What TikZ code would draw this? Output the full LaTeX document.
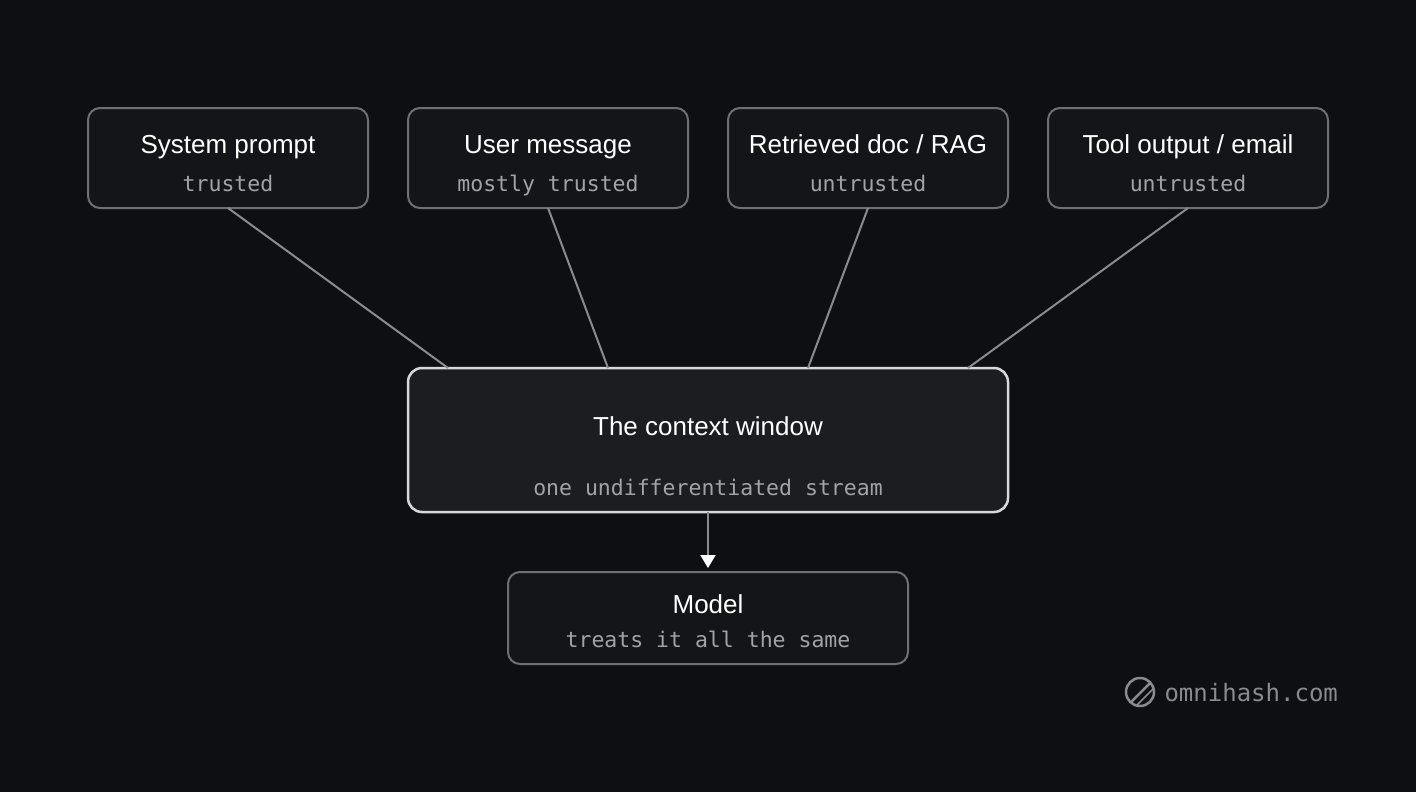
\documentclass[tikz,border=0pt]{standalone}
\usepackage{fontspec}
\setmainfont{Liberation Sans}
\newfontfamily\monof{DejaVu Sans Mono}
\usetikzlibrary{arrows.meta}
\definecolor{bg}{HTML}{0E0F12}
\definecolor{boxfill}{HTML}{141518}
\definecolor{ctxfill}{HTML}{1C1D21}
\definecolor{edge}{HTML}{6E6F73}
\definecolor{ctxedge}{HTML}{D8D8DA}
\definecolor{line}{HTML}{8A8B8E}
\definecolor{subc}{HTML}{A2A3A6}
\begin{document}
\begin{tikzpicture}[x=1pt,y=-1pt,
 src/.style={draw=edge,fill=boxfill,line width=2pt,rounded corners=12pt},
 ttl/.style={text=white,font=\fontsize{26}{28}\selectfont,anchor=base},
 sub/.style={text=subc,font=\monof\fontsize{21.5}{24}\selectfont,anchor=base},
 conn/.style={draw=line,line width=2pt}]
\fill[bg] (0,0) rectangle (1416,792);
\useasboundingbox (0,0) rectangle (1416,792);
\foreach \n/\x/\t/\s in {a/88/{System prompt}/trusted, b/408/{User message}/{mostly trusted}, c/728/{Retrieved doc / RAG}/untrusted, d/1048/{Tool output / email}/untrusted}{
 \draw[src] (\x,108) rectangle (\x+280,208);
 \node[ttl] at (\x+140,153) {\t};
 \node[sub] at (\x+140,191) {\s};
 \coordinate (\n) at (\x+140,208);
}
\draw[draw=ctxedge,fill=ctxfill,line width=2.5pt,rounded corners=14pt] (408,368) rectangle (1008,512);
\node[ttl] at (708,435) {The context window};
\node[sub] at (708,495) {one undifferentiated stream};
\coordinate (ca) at (448,368);\coordinate (cb) at (608,368);
\coordinate (cc) at (808,368);\coordinate (cd) at (968,368);
\coordinate (cbot) at (708,512);
\draw[conn] (a)--(ca); \draw[conn] (b)--(cb); \draw[conn] (c)--(cc); \draw[conn] (d)--(cd);
\draw[src] (508,572) rectangle (908,664);
\node[ttl] at (708,613) {Model};
\node[sub] at (708,647) {treats it all the same};
\coordinate (mtop) at (708,568);
\draw[conn,-{Triangle[length=13pt,width=15pt,fill=white,color=white]}] (cbot)--(mtop);
\draw[line,line width=2.5pt] (1140,692) circle (14);
\draw[line,line width=2.5pt] (1131,702)--(1150,683);
\draw[line,line width=1.5pt] (1136,706)--(1154,688);
\node[text=line,font=\monof\fontsize{24}{26}\selectfont,anchor=base west] at (1161,701) {omnihash.com};
\end{tikzpicture}
\end{document}
